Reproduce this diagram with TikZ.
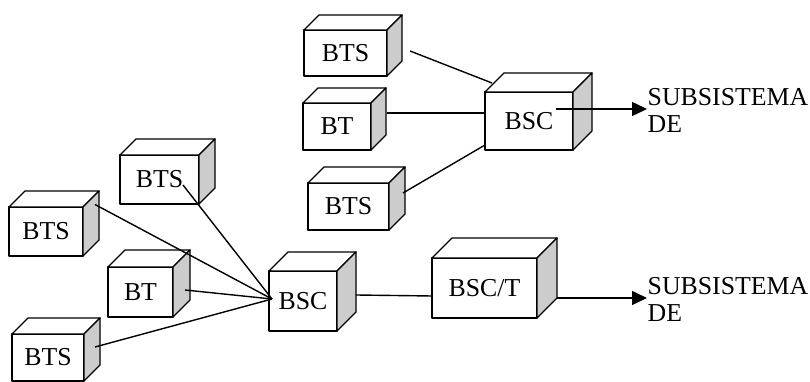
\documentclass[tikz,border=0pt]{standalone}
\usepackage{fontspec}
\setmainfont{Liberation Serif}
\usetikzlibrary{arrows.meta}
\begin{document}
\begin{tikzpicture}[x=1pt,y=1pt,line width=1.4pt,line join=round,
	font=\fontsize{25.8}{27}\selectfont,
	caja/.style={draw,fill=white,outer sep=0pt,inner sep=0pt},
	flecha/.style={-{Triangle[length=15pt,width=14pt]}}]
	\useasboundingbox (0,0) rectangle (810,382);
	% grupo de arriba
	\node[caja,minimum width=83pt,minimum height=46pt] (bts1) at (345.5,329) {BTS};
	\node[caja,minimum width=68pt,minimum height=47pt] (bt1) at (337,255.5) {BT};
	\node[caja,minimum width=81pt,minimum height=47pt] (bts2) at (348.5,175.5) {BTS};
	\node[caja,minimum width=88pt,minimum height=58pt] (bsc1) at (529,261) {BSC};
	% grupo de abajo
	\node[caja,minimum width=79pt,minimum height=49pt] (bts3) at (159.5,202.5) {BTS};
	\node[caja,minimum width=74pt,minimum height=49pt] (bts4) at (46,150.5) {BTS};
	\node[caja,minimum width=65pt,minimum height=50pt] (bt2) at (140.5,90) {BT};
	\node[caja,minimum width=72pt,minimum height=47pt] (bts5) at (48,24.5) {BTS};
	\node[caja,minimum width=68pt,minimum height=60pt] (bsc2) at (303,81) {BSC};
	\node[caja,minimum width=105pt,minimum height=60pt] (bsct) at (484.5,94) {BSC/T};
	% caras de las cajas
	\foreach \n/\d in {bts1/15,bt1/15,bts2/16,bsc1/19,bts3/16,bts4/16,bt2/17,bts5/16,bsc2/19,bsct/20}{
		\draw[fill=white] (\n.north west) -- ++(\d,\d) -- ([shift={(\d,\d)}]\n.north east) -- (\n.north east) -- cycle;
		\draw[fill=gray!40] (\n.north east) -- ++(\d,\d) -- ([shift={(\d,\d)}]\n.south east) -- (\n.south east) -- cycle;
	}
	\node[anchor=west,align=left,inner sep=0pt] (sub1) at (647,272) {SUBSISTEMA\\DE};
	\node[anchor=west,align=left,inner sep=0pt] (sub2) at (647,83) {SUBSISTEMA\\DE};
	% enlaces
	\draw ([shift={(23,2)}]bts1.east) -- ([shift={(7,9)}]bsc1.north west);
	\draw ([shift={(16,13.5)}]bt1.east) -- ([yshift=8]bsc1.west);
	\draw ([shift={(14,13.5)}]bts2.east) -- ([yshift=5]bsc1.south west);
	\draw[flecha] ([shift={(27,12)}]bsc1.center) -- (sub1.west|-0,273);
	\draw ([shift={(23.5,-5.5)}]bts3.center) -- ([shift={(3,2)}]bsc2.west);
	\draw ([shift={(12,2.5)}]bts4.north east) -- ([shift={(3,2)}]bsc2.west);
	\draw ([shift={(12,2)}]bt2.east) -- ([shift={(3,2)}]bsc2.west);
	\draw ([shift={(11,10.5)}]bts5.east) -- ([shift={(3,2)}]bsc2.west);
	\draw ([shift={(19,6)}]bsc2.east) -- ([yshift=-8]bsct.west);
	\draw[flecha] ([shift={(20,-10)}]bsct.east) -- (sub2.west|-0,84);
\end{tikzpicture}
\end{document}
